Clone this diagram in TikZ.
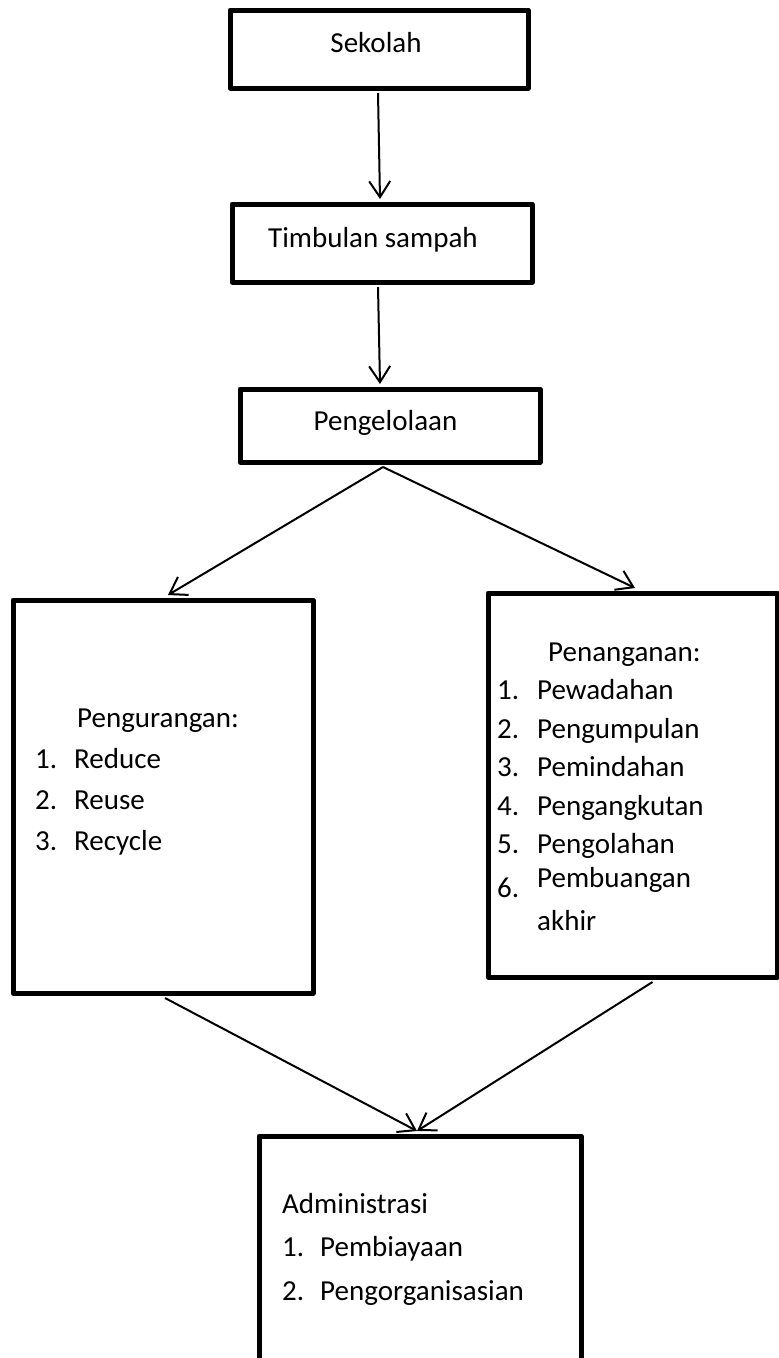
\documentclass[tikz,border=0pt]{standalone}
\usepackage{fontspec}
\setmainfont{Carlito}
\usetikzlibrary{arrows.meta}
\begin{document}
\begin{tikzpicture}[x=1pt,y=-1pt,
  box/.style={draw=black,line width=5pt,inner sep=0pt,line join=round},
  lbl/.style={anchor=base west,inner sep=0pt,font=\fontsize{29}{35}\selectfont},
  clbl/.style={anchor=base,inner sep=0pt,font=\fontsize{29}{35}\selectfont},
  arr/.style={line width=2pt,-{Straight Barb[length=16pt,width=21pt,line width=2pt]}},
  ln/.style={line width=2pt}]
\useasboundingbox (0,0) rectangle (779,1358);
\clip (0,0) rectangle (779,1358);
% boxes
\node[box,minimum width=298pt,minimum height=78pt] (sek) at (379,49) {};
\node[box,minimum width=300pt,minimum height=78pt] (tim) at (382,243) {};
\node[box,minimum width=300pt,minimum height=73pt] (pen) at (390,425.5) {};
\node[box,minimum width=300pt,minimum height=393pt] (red) at (163,796.5) {};
\node[box,minimum width=289pt,minimum height=384pt] (han) at (632.5,785) {};
\node[box,minimum width=322pt,minimum height=300pt] (adm) at (420,1286) {};
% single-line texts
\node[clbl] (tsek) at (376,52) {Sekolah};
\node[lbl] (ttim) at (268,247) {Timbulan sampah};
\node[clbl] (tpen) at (385.5,430) {Pengelolaan};
% left box
\node[lbl] (tred) at (77,727) {Pengurangan:};
\node[lbl] (r1n) at (35,768) {1.};
\node[lbl] (r1) at (74,768) {Reduce};
\node[lbl] (r2n) at (35,809) {2.};
\node[lbl] (r2) at (74,809) {Reuse};
\node[lbl] (r3n) at (35,850) {3.};
\node[lbl] (r3) at (74,850) {Recycle};
% right box
\node[lbl] (than) at (548,661) {Penanganan:};
\node[lbl] (h1n) at (497,699.5) {1.};
\node[lbl] (h1) at (537,699.5) {Pewadahan};
\node[lbl] (h2n) at (497,738) {2.};
\node[lbl] (h2) at (537,738) {Pengumpulan};
\node[lbl] (h3n) at (497,776.5) {3.};
\node[lbl] (h3) at (537,776.5) {Pemindahan};
\node[lbl] (h4n) at (497,815) {4.};
\node[lbl] (h4) at (537,815) {Pengangkutan};
\node[lbl] (h5n) at (497,853.5) {5.};
\node[lbl] (h5) at (537,853.5) {Pengolahan};
\node[lbl] (h6n) at (497,897) {6.};
\node[lbl] (h6) at (537,887) {Pembuangan};
\node[lbl] (h6b) at (537,930) {akhir};
% bottom box
\node[lbl] (tadm) at (282,1213) {Administrasi};
\node[lbl] (a1n) at (282,1256) {1.};
\node[lbl] (a1) at (320,1256) {Pembiayaan};
\node[lbl] (a2n) at (282,1300) {2.};
\node[lbl] (a2) at (320,1300) {Pengorganisasian};
% connectors
\draw[arr] ([xshift=-1pt,yshift=-2.5pt]sek.south) -- ([xshift=-2pt,yshift=2.5pt]tim.north);
\draw[arr] ([xshift=-4pt,yshift=-2.5pt]tim.south) -- ([xshift=-10pt,yshift=2.5pt]pen.north);
\draw[arr] ([xshift=-7pt,yshift=-2.5pt]pen.south) -- ([xshift=5pt,yshift=2.5pt]red.north);
\draw[arr] ([xshift=-7pt,yshift=-2.5pt]pen.south) -- ([xshift=2.5pt,yshift=2.5pt]han.north);
\draw[arr] ([xshift=2pt,yshift=-2.5pt]red.south) -- ([xshift=-3pt,yshift=2.5pt]adm.north);
\draw[arr] ([xshift=20pt,yshift=-2.5pt]han.south) -- ([xshift=-3pt,yshift=2.5pt]adm.north);
\end{tikzpicture}
\end{document}
